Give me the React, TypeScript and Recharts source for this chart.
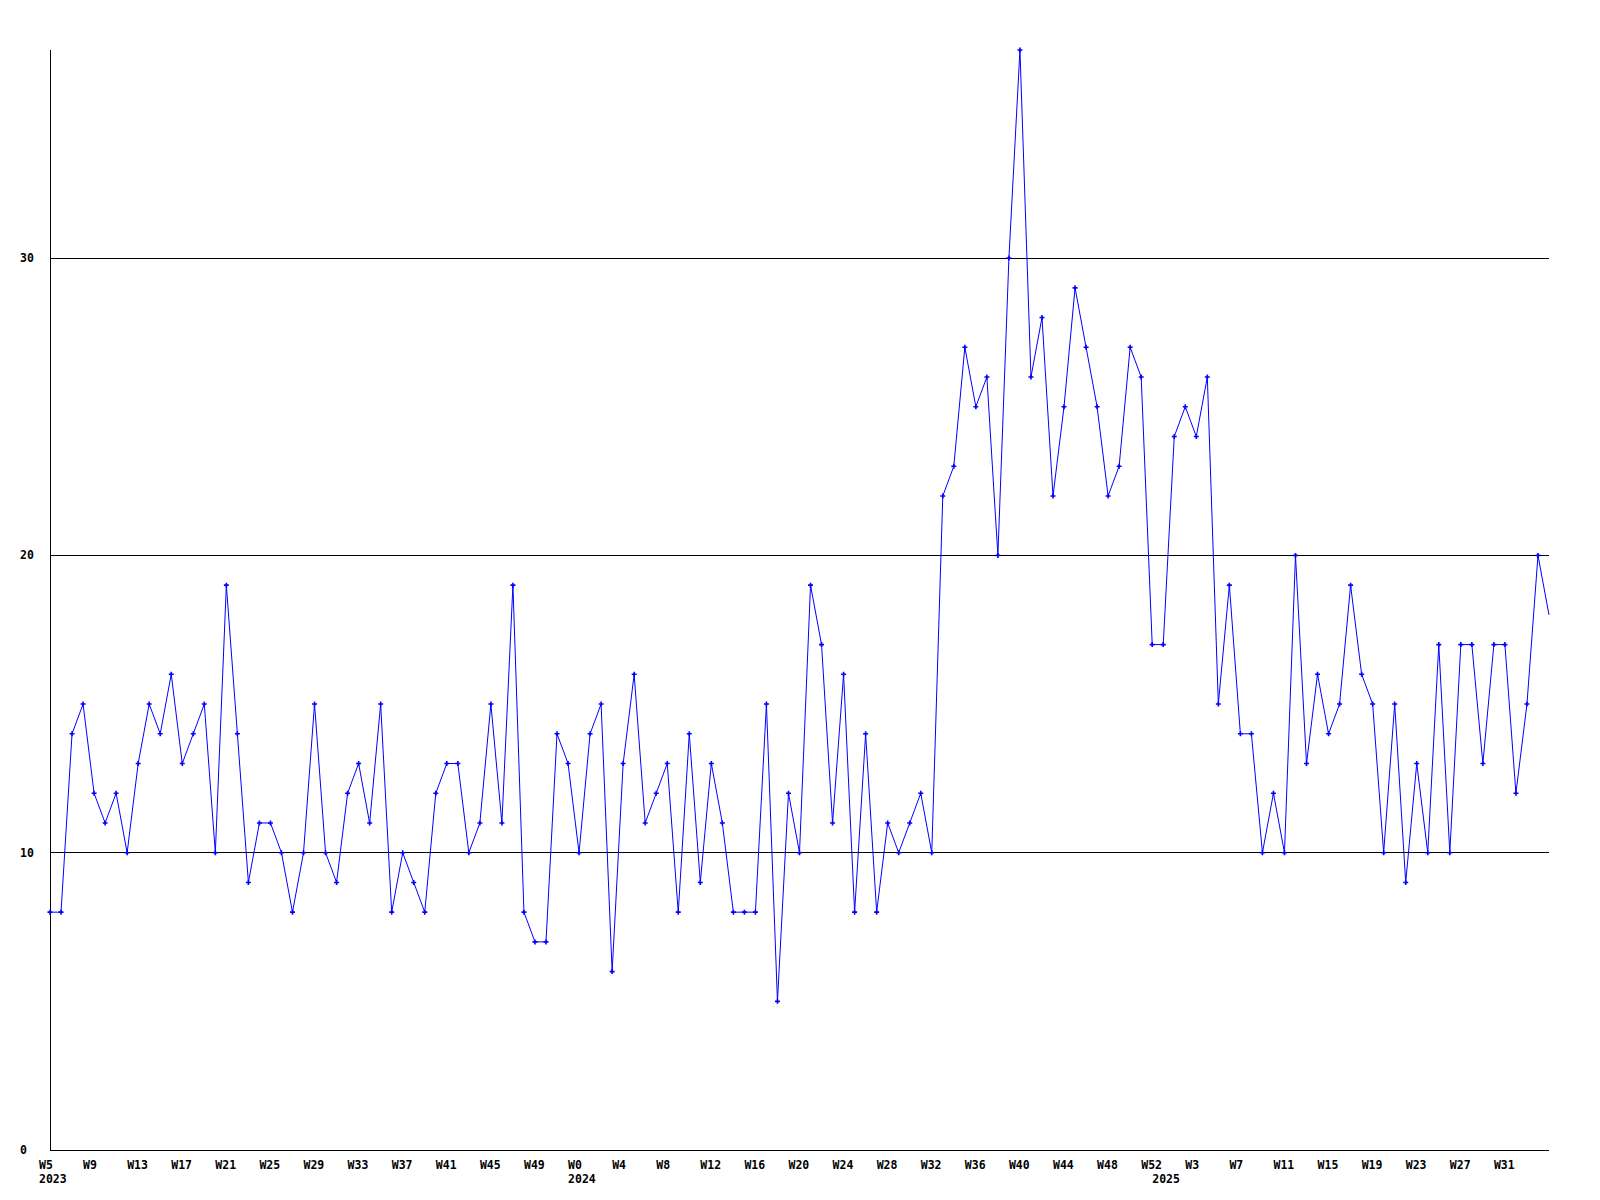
import { LineChart, Line, XAxis, YAxis, CartesianGrid } from "recharts"

// week categories, one point per week
const weekRange = (year: number, first: number, last: number) => {
  const out: string[] = []
  for (let w = first; w <= last; w++) out.push(`${year}-W${w}`)
  return out
}

const weeks2023 = weekRange(2023, 5, 52)
const weeks2024 = weekRange(2024, 0, 52)
const weeks2025 = weekRange(2025, 0, 35)

const counts2023 = [
  8, 8, 14, 15, 12, 11, 12, 10, 13, 15, 14, 16, 13, 14, 15, 10, 19, 14, 9, 11, 11, 10, 8, 10,
  15, 10, 9, 12, 13, 11, 15, 8, 10, 9, 8, 12, 13, 13, 10, 11, 15, 11, 19, 8, 7, 7, 14, 13,
]
const counts2024 = [
  10, 14, 15, 6, 13, 16, 11, 12, 13, 8, 14, 9, 13, 11, 8, 8, 8, 15, 5, 12, 10, 19, 17, 11, 16,
  8, 14, 8, 11, 10, 11, 12, 10, 22, 23, 27, 25, 26, 20, 30, 37, 26, 28, 22, 25, 29, 27, 25, 22,
  23, 27, 26, 17,
]
const counts2025 = [
  17, 24, 25, 24, 26, 15, 19, 14, 14, 10, 12, 10, 20, 13, 16, 14, 15, 19, 16, 15, 10, 15, 9, 13,
  10, 17, 10, 17, 17, 13, 17, 17, 12, 15, 20, 18,
]

const weekTicks = [
  "2023-W5", "2023-W9", "2023-W13", "2023-W17", "2023-W21", "2023-W25", "2023-W29", "2023-W33",
  "2023-W37", "2023-W41", "2023-W45", "2023-W49", "2024-W0", "2024-W4", "2024-W8", "2024-W12",
  "2024-W16", "2024-W20", "2024-W24", "2024-W28", "2024-W32", "2024-W36", "2024-W40", "2024-W44",
  "2024-W48", "2024-W52", "2025-W3", "2025-W7", "2025-W11", "2025-W15", "2025-W19", "2025-W23",
  "2025-W27", "2025-W31",
]
const yearTicks = ["2023-W5", "2024-W0", "2025-W0"]
const yTicks = [0, 10, 20, 30]
const gridValues = [10, 20, 30]

const weeks = [...weeks2023, ...weeks2024, ...weeks2025]
const counts = [...counts2023, ...counts2024, ...counts2025]
const data = weeks.map((key, i) => ({ key, count: counts[i] }))

const font = { fontFamily: "'DejaVu Sans Mono', monospace", fontWeight: "bold" as const, fontSize: 11.5 }

const WeekTick = (props: any) => {
  const { x, y, payload } = props
  const key = payload.value as string
  const [year, week] = key.split("-")
  return (
    <g>
      {weekTicks.includes(key) && (
        <text x={x - 11} y={y + 12.5} dy="0.35em" textAnchor="start" fill="#000" style={font}>
          {week}
        </text>
      )}
      {yearTicks.includes(key) && (
        <text x={x - 11} y={y + 26.5} dy="0.35em" textAnchor="start" fill="#000" style={font}>
          {year}
        </text>
      )}
    </g>
  )
}

const ValueTick = (props: any) => {
  const { y, payload } = props
  return (
    <text x={20} y={y} dy="0.35em" textAnchor="start" fill="#000" style={font}>
      {payload.value}
    </text>
  )
}

const PlusDot = (props: any) => {
  const { cx, cy, index } = props
  // last point sits on the right border and is clipped in the original
  if (cx == null || cy == null || index === data.length - 1) return <g key={index} />
  return (
    <path
      key={index}
      d={`M${cx - 2.5},${cy}H${cx + 2.5}M${cx},${cy - 2.5}V${cy + 2.5}`}
      stroke="#0000ff"
      strokeWidth={1.6}
      fill="none"
    />
  )
}

export default function App() {
  return (
    <div style={{ position: "absolute", left: 0, top: 0, width: 1600, height: 1200, background: "#fff" }}>
      <LineChart width={1600} height={1200} data={data} margin={{ top: 50, right: 51, bottom: 0, left: 0 }}>
        <CartesianGrid vertical={false} horizontalValues={gridValues} stroke="#000" shapeRendering="crispEdges" />
        <XAxis
          dataKey="key"
          height={50}
          interval={0}
          ticks={[...new Set([...weekTicks, ...yearTicks])]}
          tick={<WeekTick />}
          tickLine={false}
          tickSize={0}
          axisLine={{ stroke: "#000", shapeRendering: "crispEdges" }}
        />
        <YAxis
          width={50}
          domain={[0, 37]}
          ticks={yTicks}
          tick={<ValueTick />}
          tickLine={false}
          axisLine={{ stroke: "#000", shapeRendering: "crispEdges" }}
        />
        <Line
          type="linear"
          dataKey="count"
          stroke="#0000ff"
          strokeWidth={1}
          dot={<PlusDot />}
          activeDot={false}
          isAnimationActive={false}
        />
      </LineChart>
    </div>
  )
}
